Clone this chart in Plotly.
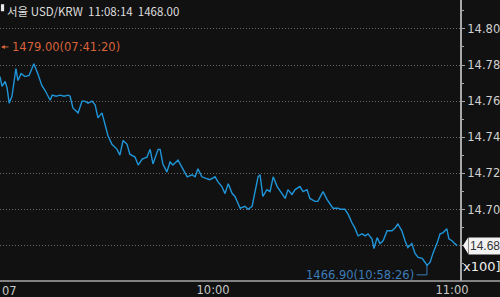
import plotly.graph_objects as go

# minutes after 09:00
minutes = [6.5, 7.0, 7.8, 8.3, 8.8, 9.5, 10.5, 11.0, 11.8, 12.8, 13.8, 15.0, 16.0, 17.0, 17.8,
           19.1, 19.6, 20.6, 21.6, 22.6, 23.6, 24.1, 24.8, 25.3, 26.1, 27.1, 27.8, 28.6, 29.6,
           30.4, 31.1, 32.1, 32.9, 33.6, 34.6, 35.9, 36.6, 37.4, 38.4, 39.1, 40.4, 41.2, 42.2,
           43.4, 44.2, 44.9, 46.2, 46.7, 47.4, 48.4, 49.2, 49.9, 51.2, 52.2, 53.5, 54.7, 55.5,
           56.2, 57.2, 58.5, 59.2, 60.5, 61.2, 62.2, 63.0, 63.8, 64.8, 65.5, 66.3, 66.8, 68.0,
           68.8, 69.8, 70.5, 71.3, 71.8, 72.5, 73.5, 74.3, 75.1, 76.1, 77.3, 78.1, 78.8, 79.8,
           80.6, 81.8, 82.6, 83.6, 84.3, 85.6, 86.3, 87.6, 88.6, 89.4, 90.1, 91.4, 91.9, 93.1,
           93.9, 94.9, 95.6, 96.4, 97.4, 98.2, 98.9, 99.9, 100.4, 101.2, 101.9, 102.7, 103.7,
           104.9, 105.7, 106.4, 107.4, 108.2, 108.9, 109.9, 110.7, 111.5, 112.5, 113.2, 113.7,
           114.5, 115.2, 116.2, 117.0, 117.7, 118.7, 119.2, 120.0, 120.7, 121.3]

# USD/KRW price
prices = [1477.36, 1476.82, 1477.09, 1476.71, 1475.89, 1476.27, 1477.80, 1477.14, 1477.52,
          1477.36, 1477.42, 1478.07, 1477.52, 1476.87, 1476.60, 1476.05, 1476.33, 1476.27,
          1476.33, 1476.27, 1476.33, 1476.27, 1475.62, 1475.51, 1475.35, 1476.00, 1476.00,
          1475.89, 1476.00, 1475.78, 1475.07, 1475.35, 1474.69, 1474.10, 1473.61, 1473.33,
          1473.01, 1473.82, 1473.61, 1473.06, 1472.90, 1472.46, 1472.79, 1472.90, 1473.33,
          1472.52, 1473.33, 1473.33, 1472.52, 1472.08, 1472.63, 1472.46, 1472.73, 1472.35,
          1471.81, 1471.92, 1471.81, 1472.25, 1471.81, 1471.70, 1471.65, 1471.81, 1471.54,
          1471.27, 1470.88, 1471.43, 1470.88, 1470.72, 1470.29, 1470.07, 1470.18, 1470.01,
          1470.18, 1470.99, 1471.81, 1471.92, 1470.72, 1471.10, 1470.99, 1471.81, 1471.27,
          1470.88, 1470.61, 1471.10, 1470.83, 1471.10, 1471.27, 1470.99, 1471.10, 1470.61,
          1470.45, 1470.45, 1470.99, 1470.56, 1470.29, 1470.07, 1470.07, 1470.01, 1470.01,
          1469.74, 1469.25, 1468.98, 1468.54, 1468.65, 1468.54, 1468.65, 1468.38, 1467.84,
          1468.44, 1468.11, 1468.27, 1468.82, 1468.82, 1468.98, 1469.20, 1468.82, 1468.27,
          1467.89, 1468.11, 1467.57, 1467.35, 1467.29, 1467.08, 1466.90, 1467.08, 1467.57,
          1468.11, 1468.65, 1468.71, 1468.93, 1468.38, 1468.27, 1468.11, 1468.00]

tick_minutes = [60, 120]
tick_labels = ["10:00", "11:00"]
y_ticks = [14.68, 14.70, 14.72, 14.74, 14.76, 14.78, 14.80]
y_tick_labels = ["", "14.70", "14.72", "14.74", "14.76", "14.78", "14.80"]  # 14.68 sits under the last-price box

title_text = "서울 USD/KRW  11:08:14  1468.00"
high_price, high_label = 1479.00, "1479.00(07:41:20)"
low_price, low_label = 1466.90, "1466.90(10:58:26)"
last_label = "14.68"

BG = "#111111"
LINE = "#1f95d8"
AXIS = "#a8a8a8"
TXT = "#d4d4d4"

y = [p / 100 for p in prices]
fig = go.Figure()
fig.add_trace(go.Scatter(x=minutes, y=y, mode="lines",
                         line=dict(color=LINE, width=1.4), hoverinfo="skip"))

# low marker connector (L-shape from the minimum point)
i_min = prices.index(min(prices))
tmin, pmin = minutes[i_min], prices[i_min] / 100
fig.add_trace(go.Scatter(x=[tmin, tmin, tmin - 2.6], y=[pmin, pmin - 0.0052, pmin - 0.0052],
                         mode="lines", line=dict(color="#3d7cb8", width=1), hoverinfo="skip"))

fig.update_layout(
    width=500, height=297,
    margin=dict(l=0, r=40, t=0, b=11),
    paper_bgcolor=BG, plot_bgcolor=BG,
    showlegend=False,
    font=dict(family="DejaVu Sans", color=TXT, size=11),
    xaxis=dict(range=[6.5, 122.0], tickvals=tick_minutes, ticktext=tick_labels,
               showgrid=False, zeroline=False, showline=False, ticks="",
               tickfont=dict(size=11.5, color="#c8c8c8", family="DejaVu Sans")),
    yaxis=dict(range=[14.6604, 14.816], side="right", tickvals=y_ticks, ticktext=y_tick_labels,
               showgrid=True, gridcolor="#6a6a6a", griddash="1px,2px",
               gridwidth=1, zeroline=False, showline=True, linecolor=AXIS, linewidth=2,
               ticks="outside", ticklen=3, tickcolor=AXIS,
               minor=dict(dtick=0.01, tick0=14.66, ticks="outside", ticklen=2, tickcolor=AXIS,
                          showgrid=False),
               tickfont=dict(size=11.5, color="#cfcfcf", family="DejaVu Sans")),
)

shapes = [
    dict(type="line", xref="paper", yref="paper", x0=0, x1=500 / 460, y0=0, y1=0,
         line=dict(color=AXIS, width=1.5)),
    dict(type="rect", xref="paper", yref="paper", x0=0, x1=500 / 460, y0=1, y1=1.007,
         line=dict(width=0), fillcolor="#3a3a3a"),
    dict(type="rect", xref="paper", yref="paper", x0=0.002, x1=0.009, y0=0.96, y1=0.985,
         line=dict(width=0), fillcolor="#e8e8e8"),
    # pointer of the last-price box
    dict(type="path", xref="paper", yref="y",
         path=f"M 1.0065 {y[-1]} L 1.0175 {y[-1] + 0.0045} L 1.0175 {y[-1] - 0.0045} Z",
         line=dict(width=0), fillcolor="#f2f2f2"),
]
fig.update_layout(shapes=shapes)

fig.add_annotation(x=0.011, y=1, xref="paper", yref="paper", xanchor="left", yanchor="top",
                   yshift=-1, text=title_text, showarrow=False,
                   font=dict(family="Noto Sans CJK KR", size=11.5, color="#dedede"))
fig.add_annotation(x=0.022, y=high_price / 100, xref="paper", yref="y", xanchor="left",
                   text=high_label, showarrow=False,
                   font=dict(family="DejaVu Sans", size=11.5, color="#d8623a"))
fig.add_annotation(x=0, y=high_price / 100, xref="paper", yref="y", text="", showarrow=True,
                   ax=10, ay=0, arrowhead=2, arrowsize=0.8, arrowwidth=1, arrowcolor="#d8623a",
                   standoff=0)
fig.add_annotation(x=tmin - 2.6, y=pmin - 0.0052, xref="x", yref="y", xanchor="right",
                   text=low_label, showarrow=False, xshift=-1,
                   font=dict(family="DejaVu Sans", size=11.5, color="#3d7cb8"))
fig.add_annotation(x=1.0175, y=y[-1], xref="paper", yref="y", xanchor="left",
                   text=last_label, showarrow=False, bgcolor="#f2f2f2", borderpad=1,
                   font=dict(family="Liberation Sans", size=12, color="#333333"))
fig.add_annotation(x=1, y=0.05, xref="paper", yref="paper", xanchor="left", yanchor="middle",
                   xshift=1, text="x100]", showarrow=False,
                   font=dict(family="DejaVu Sans", size=13, color="#eeeeee"))
fig.add_annotation(x=0, y=0, xref="paper", yref="paper", xanchor="left", yanchor="top",
                   yshift=-1, text="07", showarrow=False,
                   font=dict(family="DejaVu Sans", size=11.5, color="#c8c8c8"))

fig.write_html("out.html", config={"displayModeBar": False})
